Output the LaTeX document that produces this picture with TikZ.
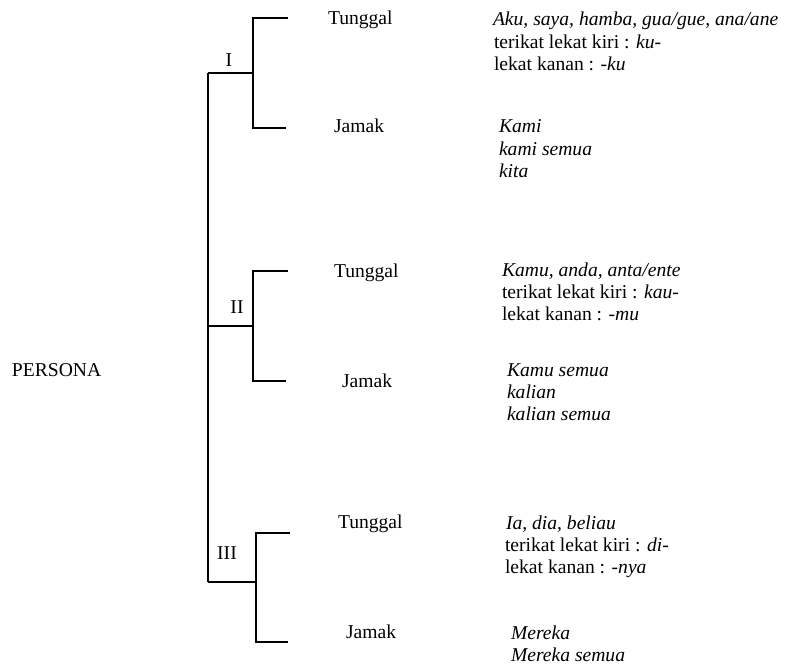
\documentclass[tikz,border=0pt]{standalone}
\usepackage{fontspec}
\setmainfont{Liberation Serif}
\begin{document}
\begin{tikzpicture}[x=1pt,y=-1pt,
  every node/.style={inner sep=0pt,outer sep=0pt,font=\fontsize{19.6}{22.4}\selectfont},
  lbl/.style={anchor=base west},
  tree/.style={line width=1.6pt,line cap=butt,line join=miter}]
\path[use as bounding box] (0,0) rectangle (787,666);

% root label
\node[lbl] (persona) at (12,376) {PERSONA};

% main spine
\coordinate (spineTop) at (208,73);
\coordinate (spineII)  at (208,326);
\coordinate (spineBot) at (208,582);
\draw[tree] (spineTop) -- (spineBot);

% ---------- persona I ----------
\coordinate (jI)  at (253,73);
\coordinate (tIa) at (253,18);  \coordinate (tIb) at (288,18);
\coordinate (jIa) at (253,128); \coordinate (jIb) at (286,128);
\draw[tree] (spineTop) -- (jI);
\draw[tree] (tIb) -- (tIa) -- (jIa) -- (jIb);
\node[anchor=base] (labI) at (229,67) {I};
\node[lbl] (tunggalI) at (328,25)  {Tunggal};
\node[lbl] (jamakI)   at (334,133) {Jamak};
\node[lbl] (sgI1) at (493,26)    {\textit{Aku, saya, hamba, gua/gue, ana/ane}};
\node[lbl] (sgI2) at (494,48.4)  {terikat lekat kiri : \textit{ku-}};
\node[lbl] (sgI3) at (494,70.8)  {lekat kanan : \textit{-ku}};
\node[lbl] (plI1) at (499,132.7) {\textit{Kami}};
\node[lbl] (plI2) at (499,155.1) {\textit{kami semua}};
\node[lbl] (plI3) at (499,177.5) {\textit{kita}};

% ---------- persona II ----------
\coordinate (jII)  at (253,326);
\coordinate (tIIa) at (253,271); \coordinate (tIIb) at (288,271);
\coordinate (jIIa) at (253,381); \coordinate (jIIb) at (286,381);
\draw[tree] (spineII) -- (jII);
\draw[tree] (tIIb) -- (tIIa) -- (jIIa) -- (jIIb);
\node[anchor=base] (labII) at (237,313) {II};
\node[lbl] (tunggalII) at (334,277) {Tunggal};
\node[lbl] (jamakII)   at (342,387) {Jamak};
\node[lbl] (sgII1) at (502,276)   {\textit{Kamu, anda, anta/ente}};
\node[lbl] (sgII2) at (502,298.4) {terikat lekat kiri : \textit{kau-}};
\node[lbl] (sgII3) at (502,320.8) {lekat kanan : \textit{-mu}};
\node[lbl] (plII1) at (507,376)   {\textit{Kamu semua}};
\node[lbl] (plII2) at (507,398.4) {\textit{kalian}};
\node[lbl] (plII3) at (507,420.8) {\textit{kalian semua}};

% ---------- persona III ----------
\coordinate (jIII)  at (256,582);
\coordinate (tIIIa) at (256,533); \coordinate (tIIIb) at (290,533);
\coordinate (jIIIa) at (256,642); \coordinate (jIIIb) at (288,642);
\draw[tree] (spineBot) -- (jIII);
\draw[tree] (tIIIb) -- (tIIIa) -- (jIIIa) -- (jIIIb);
\node[anchor=base] (labIII) at (227,559) {III};
\node[lbl] (tunggalIII) at (338,528) {Tunggal};
\node[lbl] (jamakIII)   at (346,638) {Jamak};
\node[lbl] (sgIII1) at (506,529)   {\textit{Ia, dia, beliau}};
\node[lbl] (sgIII2) at (505,551.4) {terikat lekat kiri : \textit{di-}};
\node[lbl] (sgIII3) at (505,573.8) {lekat kanan : \textit{-nya}};
\node[lbl] (plIII1) at (511,639)   {\textit{Mereka}};
\node[lbl] (plIII2) at (511,661.4) {\textit{Mereka semua}};
\end{tikzpicture}
\end{document}
